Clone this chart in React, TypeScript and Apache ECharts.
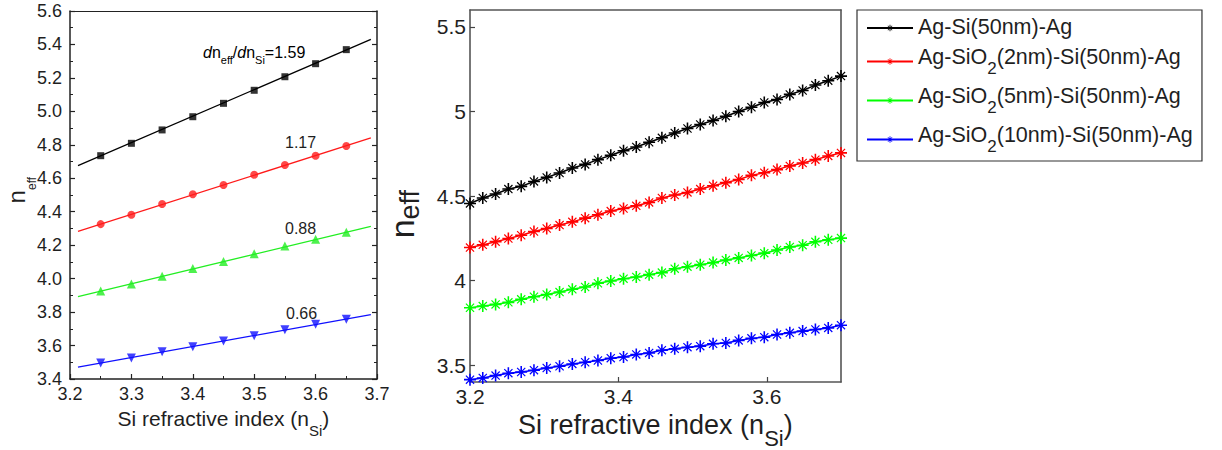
import React, { useEffect, useRef } from 'react';
import * as echarts from 'echarts';

const FONT = 'Liberation Sans, Arial, sans-serif';
const TXT = '#1f1f1f';

// ---------- left panel data ----------
const leftX = [3.25, 3.3, 3.35, 3.4, 3.45, 3.5, 3.55, 3.6, 3.65];
const leftBlack = [4.735, 4.809, 4.889, 4.968, 5.048, 5.126, 5.207, 5.285, 5.369];
const leftRed = [4.326, 4.382, 4.446, 4.504, 4.56, 4.621, 4.679, 4.735, 4.793];
const leftGreen = [3.926, 3.968, 4.014, 4.061, 4.103, 4.149, 4.195, 4.235, 4.277];
const leftBlue = [3.495, 3.525, 3.563, 3.593, 3.627, 3.659, 3.695, 3.727, 3.757];
const fitX = [3.213, 3.69];
const fitBlack = [4.676, 5.43];
const fitRed = [4.283, 4.841];
const fitGreen = [3.893, 4.313];
const fitBlue = [3.471, 3.785];
const slopeLabels = ['1.59', '1.17', '0.88', '0.66'];

// ---------- right panel data ----------
const rightX = [
  3.2, 3.2172, 3.2345, 3.2517, 3.269, 3.2862, 3.3034, 3.3207, 3.3379, 3.3552,
  3.3724, 3.3897, 3.4069, 3.4241, 3.4414, 3.4586, 3.4759, 3.4931, 3.5103, 3.5276,
  3.5448, 3.5621, 3.5793, 3.5966, 3.6138, 3.631, 3.6483, 3.6655, 3.6828, 3.7,
];
const rightBlack = [
  4.456, 4.488, 4.512, 4.541, 4.557, 4.586, 4.61, 4.636, 4.666, 4.687,
  4.715, 4.741, 4.768, 4.79, 4.818, 4.844, 4.873, 4.899, 4.923, 4.946,
  4.972, 5.0, 5.025, 5.053, 5.071, 5.101, 5.124, 5.156, 5.182, 5.209,
];
const rightRed = [
  4.195, 4.211, 4.23, 4.248, 4.268, 4.29, 4.308, 4.328, 4.347, 4.369,
  4.389, 4.411, 4.426, 4.442, 4.462, 4.488, 4.506, 4.521, 4.541, 4.561,
  4.579, 4.598, 4.622, 4.638, 4.656, 4.678, 4.695, 4.715, 4.737, 4.755,
];
const rightGreen = [
  3.839, 3.849, 3.859, 3.871, 3.889, 3.904, 3.918, 3.932, 3.948, 3.962,
  3.984, 3.997, 4.011, 4.021, 4.035, 4.047, 4.07, 4.082, 4.094, 4.106,
  4.122, 4.134, 4.148, 4.162, 4.181, 4.199, 4.209, 4.229, 4.241, 4.251,
];
const rightBlue = [
  3.414, 3.424, 3.438, 3.452, 3.459, 3.47, 3.483, 3.493, 3.507, 3.517,
  3.527, 3.541, 3.548, 3.563, 3.572, 3.588, 3.596, 3.606, 3.612, 3.626,
  3.631, 3.646, 3.658, 3.665, 3.681, 3.691, 3.701, 3.711, 3.72, 3.736,
];
const legendNames = [
  'Ag-Si(50nm)-Ag',
  'Ag-SiO2(2nm)-Si(50nm)-Ag',
  'Ag-SiO2(5nm)-Si(50nm)-Ag',
  'Ag-SiO2(10nm)-Si(50nm)-Ag',
];
const colors = ['#000000', '#ff0000', '#00ff00', '#0000ff'];
const leftColors = ['#000000', '#ff1a1a', '#22ee22', '#1010ff'];

const ASTERISK =
  'path://M8.7 0L11.3 0L11.3 20L8.7 20Z M0 8.7L20 8.7L20 11.3L0 11.3Z M3.9 2.5L17.5 16.1L16.1 17.5L2.5 3.9Z M16.1 2.5L17.5 3.9L3.9 17.5L2.5 16.1Z';

const pairs = (xs: number[], ys: number[]) => xs.map((x, i) => [x, ys[i]]);

function buildOption(): any {
  const leftMarkers = [
    { d: leftBlack, sym: 'rect', size: 7, rot: 0 },
    { d: leftRed, sym: 'circle', size: 8, rot: 0 },
    { d: leftGreen, sym: 'triangle', size: 9, rot: 0 },
    { d: leftBlue, sym: 'triangle', size: 9, rot: 180 },
  ];
  const fits = [fitBlack, fitRed, fitGreen, fitBlue];
  const rights = [rightBlack, rightRed, rightGreen, rightBlue];

  const series: any[] = [];
  fits.forEach((f, i) => {
    series.push({
      type: 'line',
      xAxisIndex: 0,
      yAxisIndex: 0,
      data: pairs(fitX, f),
      showSymbol: false,
      symbol: 'none',
      lineStyle: { color: leftColors[i], width: 1.3 },
      silent: true,
      z: 2,
    });
  });
  leftMarkers.forEach((m, i) => {
    series.push({
      type: 'scatter',
      xAxisIndex: 0,
      yAxisIndex: 0,
      data: pairs(leftX, m.d),
      symbol: m.sym,
      symbolSize: m.size,
      symbolRotate: m.rot,
      itemStyle: { color: leftColors[i] },
      silent: true,
      z: 3,
    });
  });
  rights.forEach((d, i) => {
    series.push({
      type: 'line',
      name: legendNames[i],
      xAxisIndex: 2,
      yAxisIndex: 2,
      data: pairs(rightX, d),
      symbol: ASTERISK,
      symbolSize: 12,
      showAllSymbol: true,
      color: colors[i],
      itemStyle: { color: colors[i], borderWidth: 0 },
      lineStyle: { color: colors[i], width: 1.5 },
      clip: false,
      silent: true,
      z: 3,
    });
  });

  const frameL = { color: '#222', width: 1.5 };
  const frameR = { color: '#555', width: 1.6 };

  const subRich = (main: number, sub: number, lh: number, total: number) => ({
    m: { fontSize: main, lineHeight: lh, verticalAlign: 'top', fontFamily: FONT, color: TXT },
    i: { fontSize: main, lineHeight: lh, verticalAlign: 'top', fontFamily: FONT, color: TXT, fontStyle: 'italic' },
    s: { fontSize: sub, lineHeight: sub, verticalAlign: 'bottom', fontFamily: FONT, color: TXT },
    sp: { fontSize: 1, lineHeight: total, verticalAlign: 'bottom', fontFamily: FONT, color: TXT },
  });

  return {
    animation: false,
    backgroundColor: '#ffffff',
    grid: [
      { left: 70, top: 11, width: 307, height: 368, outerBoundsMode: 'none', containLabel: false },
      { left: 470, top: 10, width: 371, height: 372, outerBoundsMode: 'none', containLabel: false },
    ],
    xAxis: [
      {
        gridIndex: 0,
        type: 'value',
        min: 3.2,
        max: 3.7,
        interval: 0.1,
        position: 'bottom',
        axisLine: { show: true, onZero: false, lineStyle: frameL },
        axisTick: { show: true, inside: true, length: 5, lineStyle: { color: '#222', width: 1.2 } },
        minorTick: { show: true, splitNumber: 2, length: 3, lineStyle: { color: '#222', width: 1 } },
        splitLine: { show: false },
        axisLabel: {
          fontSize: 18,
          color: TXT,
          fontFamily: FONT,
          margin: 6,
          formatter: (v: number) => v.toFixed(1),
        },
        name: '{m|Si refractive index (n}{s|Si}{m|)}{sp| }',
        nameLocation: 'middle',
        nameGap: 28,
        nameTextStyle: { rich: subRich(21, 15, 24, 30) },
      },
      {
        gridIndex: 0,
        type: 'value',
        min: 3.2,
        max: 3.7,
        position: 'top',
        axisLine: { show: true, onZero: false, lineStyle: { color: '#222', width: 1 } },
        axisTick: { show: false },
        axisLabel: { show: false },
        splitLine: { show: false },
      },
      {
        gridIndex: 1,
        type: 'value',
        min: 3.2,
        max: 3.7,
        interval: 0.2,
        position: 'bottom',
        axisLine: { show: true, onZero: false, lineStyle: frameR },
        axisTick: { show: true, inside: true, length: 5, lineStyle: { color: '#444', width: 1.2 } },
        splitLine: { show: false },
        axisLabel: {
          fontSize: 21,
          color: TXT,
          fontFamily: FONT,
          margin: 4,
          showMaxLabel: false,
          formatter: (v: number) => (Math.abs(v - 3.7) < 1e-6 ? '' : v.toFixed(1)),
        },
        name: '{m|Si refractive index (n}{s|Si}{m|)}{sp| }',
        nameLocation: 'middle',
        nameGap: 29,
        nameTextStyle: { rich: subRich(27, 22, 28, 38) },
      },
      {
        gridIndex: 1,
        type: 'value',
        min: 3.2,
        max: 3.7,
        position: 'top',
        axisLine: { show: true, onZero: false, lineStyle: frameR },
        axisTick: { show: false },
        axisLabel: { show: false },
        splitLine: { show: false },
      },
    ],
    yAxis: [
      {
        gridIndex: 0,
        type: 'value',
        min: 3.4,
        max: 5.6,
        interval: 0.2,
        position: 'left',
        axisLine: { show: true, onZero: false, lineStyle: frameL },
        axisTick: { show: true, inside: true, length: 5, lineStyle: { color: '#222', width: 1.2 } },
        minorTick: { show: true, splitNumber: 2, length: 3, lineStyle: { color: '#222', width: 1 } },
        splitLine: { show: false },
        axisLabel: {
          fontSize: 18,
          color: TXT,
          fontFamily: FONT,
          margin: 8,
          formatter: (v: number) => v.toFixed(1),
        },
        name: '{m|n}{s|eff}{sp| }',
        nameLocation: 'middle',
        nameGap: 32,
        nameMoveOverlap: false,
        nameTextStyle: { rich: subRich(24, 12, 25, 34), padding: [0, 0, 0, 10] },
      },
      {
        gridIndex: 0,
        type: 'value',
        min: 3.4,
        max: 5.6,
        interval: 0.2,
        position: 'right',
        axisLine: { show: true, onZero: false, lineStyle: frameL },
        axisTick: { show: true, inside: true, length: 5, lineStyle: { color: '#222', width: 1.2 } },
        minorTick: { show: true, splitNumber: 2, length: 3, lineStyle: { color: '#222', width: 1 } },
        axisLabel: { show: false },
        splitLine: { show: false },
      },
      {
        gridIndex: 1,
        type: 'value',
        min: 3.4,
        max: 5.6,
        splitNumber: 5,
        position: 'left',
        axisLine: { show: true, onZero: false, lineStyle: frameR },
        axisTick: { show: true, inside: true, length: 5, lineStyle: { color: '#444', width: 1.2 } },
        splitLine: { show: false },
        axisLabel: {
          fontSize: 21,
          color: TXT,
          fontFamily: FONT,
          margin: 4,
          showMinLabel: false,
          showMaxLabel: false,
          formatter: (v: number) => {
            const r = Math.round(v * 2) / 2;
            return Math.abs(v - r) > 1e-6 ? '' : String(r);
          },
        },
        name: '{m|n}{s|eff}{sp| }',
        nameLocation: 'middle',
        nameGap: 47,
        nameTextStyle: { rich: subRich(34, 27, 36, 38), padding: [0, 36, 0, 0] },
      },
      {
        gridIndex: 1,
        type: 'value',
        min: 3.4,
        max: 5.6,
        position: 'right',
        axisLine: { show: true, onZero: false, lineStyle: frameR },
        axisTick: { show: false },
        axisLabel: { show: false },
        splitLine: { show: false },
      },
    ],
    legend: {
      data: legendNames,
      orient: 'vertical',
      left: 857,
      top: 10,
      itemWidth: 46,
      itemHeight: 8,
      itemGap: 8,
      padding: [6, 9, 6, 9],
      borderColor: '#333',
      borderWidth: 1.2,
      selectedMode: false,
      textStyle: {
        fontFamily: FONT,
        color: TXT,
        fontSize: 21.5,
        rich: subRich(21.5, 17, 24, 31),
      },
      formatter: (name: string) => {
        const i = name.indexOf('SiO2');
        if (i < 0) return `{m|${name}}`;
        return `{m|${name.slice(0, i + 3)}}{s|2}{m|${name.slice(i + 4)}}{sp| }`;
      },
    },
    graphic: [
      {
        type: 'text',
        x: 203,
        y: 44,
        silent: true,
        style: {
          text: `{i|d}{m|n}{s|eff}{m|/}{i|d}{m|n}{s|Si}{m|=${slopeLabels[0]}}{sp| }`,
          rich: subRich(16, 11, 18, 21),
          align: 'left',
          verticalAlign: 'top',
        },
      },
      { type: 'text', x: 285, y: 142.5, silent: true, style: { text: slopeLabels[1], fontSize: 16, fontFamily: FONT, fill: TXT, align: 'left', verticalAlign: 'middle' } },
      { type: 'text', x: 285, y: 228, silent: true, style: { text: slopeLabels[2], fontSize: 16, fontFamily: FONT, fill: TXT, align: 'left', verticalAlign: 'middle' } },
      { type: 'text', x: 286, y: 313.5, silent: true, style: { text: slopeLabels[3], fontSize: 16, fontFamily: FONT, fill: TXT, align: 'left', verticalAlign: 'middle' } },
    ],
    series,
  };
}

export default function App() {
  const ref = useRef<HTMLDivElement>(null);
  useEffect(() => {
    if (!ref.current) return;
    const chart = echarts.init(ref.current, null, { renderer: 'svg' });
    chart.setOption(buildOption());
    return () => chart.dispose();
  }, []);
  return (
    <div
      ref={ref}
      style={{ position: 'absolute', left: 0, top: 0, width: 1222, height: 450, background: '#fff' }}
    />
  );
}
